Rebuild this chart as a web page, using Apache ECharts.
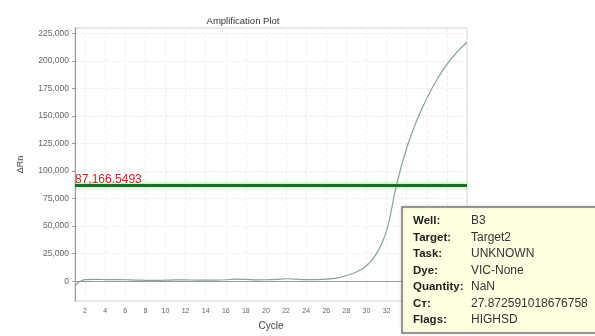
<!DOCTYPE html>
<html>
<head>
<meta charset="utf-8">
<script src="https://cdn.jsdelivr.net/npm/echarts@6/dist/echarts.min.js"></script>
<style>
html,body{margin:0;padding:0;background:#fff;}
#c{width:595px;height:336px;}
</style>
</head>
<body>
<div id="c"></div>
<script>
var cycles = [1,2,3,4,5,6,7,8,9,10,11,12,13,14,15,16,17,18,19,20,21,22,23,24,25,26,27,28,29,30,31,32,33,34,35,36,37,38,39,40];
var deltaRn = [-4000,1500,1600,1500,1400,1300,1000,800,700,900,1100,1200,1000,900,1000,1300,1800,1600,1200,1300,1600,2200,1800,1500,1500,1800,2800,5200,8400,14000,25000,46000,88000,121000,146000,166000,183000,197000,208000,217000];
var xTicks = [2,4,6,8,10,12,14,16,18,20,22,24,26,28,30,32,34,36,38,40];
var yTicks = [0,25000,50000,75000,100000,125000,150000,175000,200000,225000];
var threshold = 87166.5493;
var infoLabels = ['Well:','Target:','Task:','Dye:','Quantity:','C\u1D1B:','Flags:'];
var infoValues = ['B3','Target2','UNKNOWN','VIC-None','NaN','27.872591018676758','HIGHSD'];

var chart = echarts.init(document.getElementById('c'), null, {renderer:'canvas'});
var graphics = [
  {type:'rect', shape:{x:402,y:207,width:200,height:126}, style:{fill:'#ffffe1', stroke:'#7a7a7a', lineWidth:1.5, shadowColor:'rgba(0,0,0,0.15)', shadowBlur:3}, z:100}
];
infoLabels.forEach(function(t,i){
  graphics.push({type:'text', left:413, top:215+i*16.5, style:{text:t, font:'bold 11.5px "Liberation Sans", Arial, sans-serif', fill:'#222'}, z:101});
  graphics.push({type:'text', left:471, top:215+i*16.5, style:{text:infoValues[i], font:'12px "Liberation Sans", Arial, sans-serif', fill:'#333'}, z:101});
});

chart.setOption({
  animation:false,
  title:{text:'Amplification Plot', left:238, top:11, textAlign:'center',
    textStyle:{fontSize:9.5, fontWeight:'normal', color:'#333', fontFamily:'"Liberation Sans", Arial, sans-serif'}},
  grid:{left:75, right:128, top:28, bottom:28, show:true, borderColor:'#d0d0d0', borderWidth:1},
  xAxis:{type:'value', min:1, max:40, name:'Cycle', nameLocation:'middle', nameGap:20,
    nameTextStyle:{fontSize:10, color:'#444', fontFamily:'"Liberation Sans", Arial, sans-serif'},
    axisLine:{lineStyle:{color:'#9a9a9a'}},
    axisTick:{show:false, customValues:xTicks},
    axisLabel:{customValues:xTicks, fontSize:7, color:'#666', margin:7, fontFamily:'"Liberation Sans", Arial, sans-serif'},
    splitLine:{show:true, lineStyle:{color:'#efefef', width:1, type:'dashed'}}
  },
  yAxis:{type:'value', min:-18000, max:230000, name:'\u0394Rn', nameLocation:'middle', nameGap:50, nameRotate:90,
    nameTextStyle:{fontSize:9, color:'#444', fontFamily:'"Liberation Sans", Arial, sans-serif'},
    axisLine:{show:true, lineStyle:{color:'#9a9a9a'}},
    axisTick:{show:true, length:3, customValues:yTicks, lineStyle:{color:'#9a9a9a'}},
    axisLabel:{customValues:yTicks, fontSize:8.5, color:'#666', margin:6, fontFamily:'"Liberation Sans", Arial, sans-serif',
      formatter:function(v){return v.toLocaleString('en-US');}},
    splitLine:{show:true, lineStyle:{color:'#efefef', width:1, type:'dashed'}}
  },
  series:[{
    type:'line', data:cycles.map(function(c,i){return [c, deltaRn[i]];}),
    smooth:0.4, showSymbol:false, symbol:'none',
    lineStyle:{color:'#86a58f', width:1.2},
    markLine:{silent:true, symbol:['none','none'],
      lineStyle:{color:'#1c6e2c', width:3, type:'solid', shadowColor:'rgba(80,220,80,0.7)', shadowBlur:4},
      label:{show:true, position:'insideStartTop', distance:[0,0], formatter:'87,166.5493', color:'#e02020', fontSize:12, fontFamily:'"Liberation Sans", Arial, sans-serif'},
      data:[{yAxis:threshold}]
    }
  }],
  graphic:graphics
});
</script>
</body>
</html>
